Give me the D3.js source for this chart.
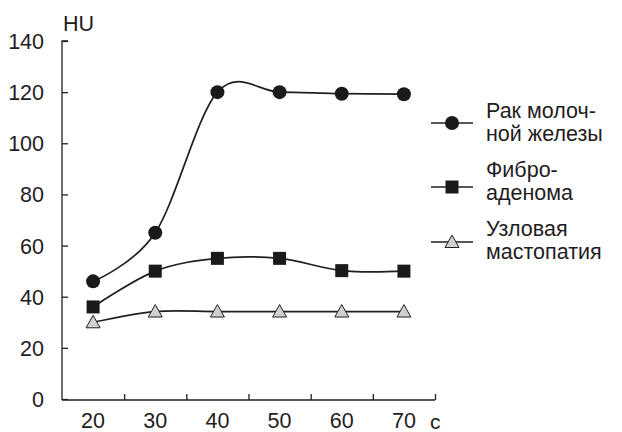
<!DOCTYPE html>
<html><head><meta charset="utf-8">
<script src="https://cdn.jsdelivr.net/npm/d3@7"></script>
<style>
body{margin:0;background:#fff;}
text{font-family:"Liberation Sans",Arial,Helvetica,sans-serif;fill:#1f1c1d;}
</style></head>
<body>
<script>
const times = [20, 30, 40, 50, 60, 70];
const cancer = [46, 65, 120, 120, 119.4, 119.2];
const fibroadenoma = [36, 50, 55, 55, 50.2, 50];
const mastopathy = [30, 34.2, 34.2, 34.2, 34.2, 34.2];
const yTicks = [0, 20, 40, 60, 80, 100, 120, 140];
const legendLines = [["Рак молоч-", "ной железы"], ["Фибро-", "аденома"], ["Узловая", "мастопатия"]];
const yLabel = "HU";
const xLabel = "с";

const W = 622, H = 432;
const ink = "#231f20";
const svg = d3.select("body").append("svg").attr("width", W).attr("height", H);

const x = d3.scaleLinear().domain([15, 75]).range([62, 435]);
const y = d3.scaleLinear().domain([0, 140]).range([399, 41]);

// y axis
const yAxis = svg.append("g").attr("transform", "translate(62,0)")
  .call(d3.axisRight(y).tickValues(yTicks).tickSize(6).tickFormat(""));
yAxis.select(".domain").attr("d", `M6,${y(140)}H0V${y(0)+1}`);
yAxis.selectAll("path,line").attr("stroke", ink).attr("stroke-width", 1.3);
svg.append("g").selectAll("text").data(yTicks).join("text")
  .attr("x", 44).attr("y", d => y(d) + 8).attr("text-anchor", "end")
  .attr("font-size", 21.5).text(d => d);

// x axis
const xTickVals = times.map(t => t + 5);
const xAxis = svg.append("g").attr("transform", `translate(0,${y(0)+1})`)
  .call(d3.axisTop(x).tickValues(xTickVals).tickSize(6).tickFormat(""));
xAxis.select(".domain").attr("d", `M${x(15)},0H${x(75)}`);
xAxis.selectAll("path,line").attr("stroke", ink).attr("stroke-width", 1.3);
svg.append("g").selectAll("text").data(times).join("text")
  .attr("x", d => x(d)).attr("y", 428).attr("text-anchor", "middle")
  .attr("font-size", 21.5).text(d => d);

svg.append("text").attr("x", 63).attr("y", 31).attr("font-size", 21.5).text(yLabel);
svg.append("text").attr("x", 430).attr("y", 429).attr("font-size", 21).text(xLabel);

const line = d3.line().x((d, i) => x(times[i])).y(d => y(d)).curve(d3.curveCardinal.tension(0));

const series = [
  {vals: cancer, type: "circle"},
  {vals: fibroadenoma, type: "square"},
  {vals: mastopathy, type: "triangle"}
];

function marker(g, type, cx, cy) {
  if (type === "circle") {
    g.append("circle").attr("cx", cx).attr("cy", cy).attr("r", 7).attr("fill", "#1a1a1a");
  } else if (type === "square") {
    g.append("rect").attr("x", cx - 6.5).attr("y", cy - 6.5).attr("width", 13).attr("height", 13).attr("fill", "#1a1a1a");
  } else {
    const s = 7;
    g.append("path").attr("d", `M${cx},${cy - 7}L${cx + s},${cy + 5.5}L${cx - s},${cy + 5.5}Z`)
      .attr("fill", "#cfcfcf").attr("stroke", ink).attr("stroke-width", 1);
  }
}

series.forEach(s => {
  svg.append("path").attr("d", line(s.vals)).attr("fill", "none").attr("stroke", ink).attr("stroke-width", 1.7);
});
series.forEach(s => {
  const g = svg.append("g");
  s.vals.forEach((v, i) => marker(g, s.type, x(times[i]), y(v)));
});

// legend
const legY = [123, 187, 242];
const legBase = [[118, 141], [177, 200], [236, 259]];
series.forEach((s, i) => {
  const g = svg.append("g");
  g.append("line").attr("x1", 431).attr("x2", 473).attr("y1", legY[i]).attr("y2", legY[i])
    .attr("stroke", ink).attr("stroke-width", 1.6);
  marker(g, s.type, 452, legY[i]);
  legendLines[i].forEach((t, j) => {
    g.append("text").attr("x", 486).attr("y", legBase[i][j]).attr("font-size", 21.5).text(t);
  });
});
</script>
</body></html>
